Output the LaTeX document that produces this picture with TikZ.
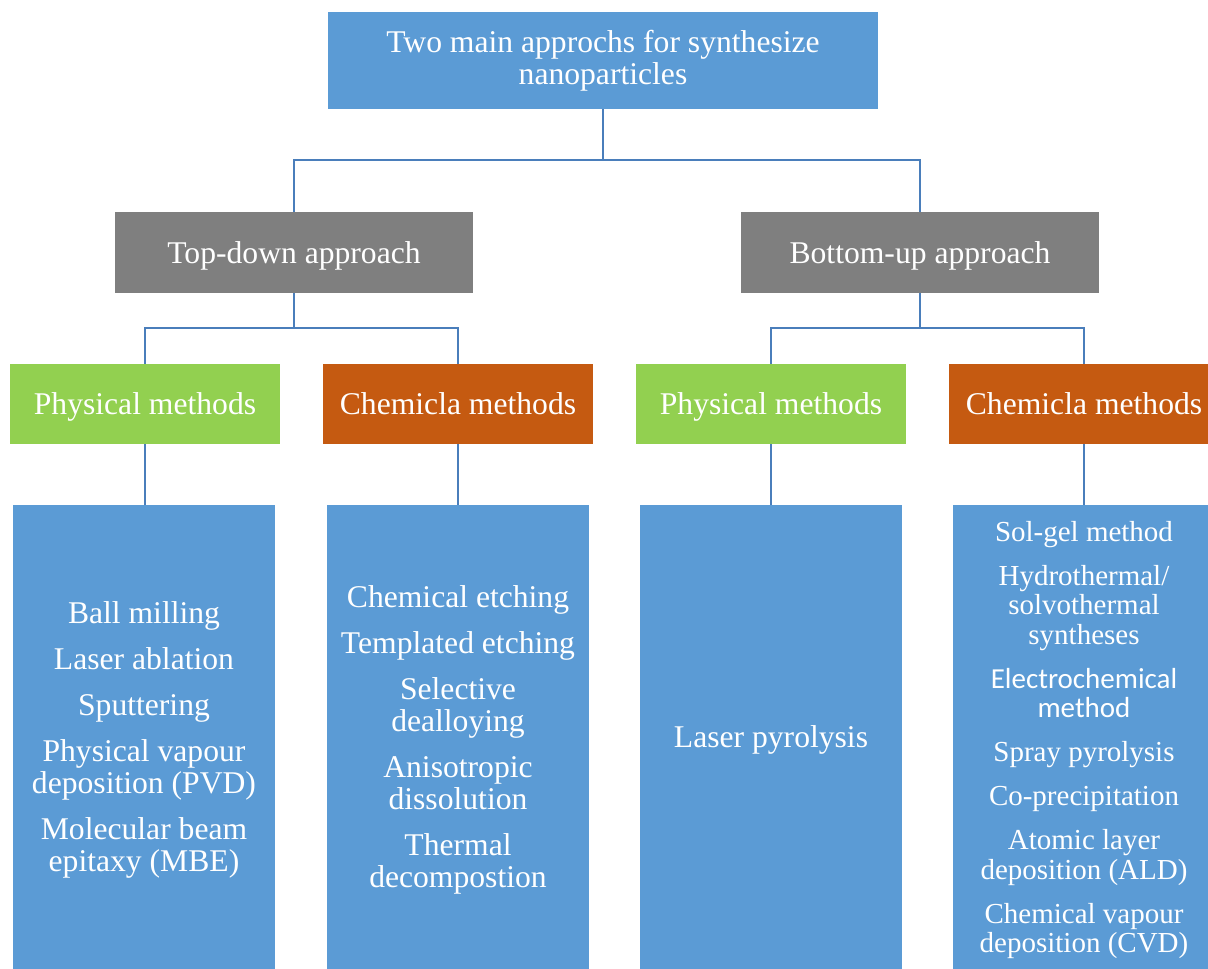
\documentclass[tikz,border=0pt]{standalone}
\usepackage{fontspec}
\setmainfont{Liberation Serif}
\newfontfamily\calibrifont{Carlito}
\usepackage{xcolor}
\usepackage{tikz}
\usetikzlibrary{positioning}
\definecolor{NanoBlue}{HTML}{5B9BD5}
\definecolor{NanoGray}{HTML}{7F7F7F}
\definecolor{NanoGreen}{HTML}{92D050}
\definecolor{NanoOrange}{HTML}{C55A11}
\definecolor{NanoLine}{HTML}{4A7EBB}
\tikzset{
  box/.style={
    draw=none,
    text=white,
    align=center,
    inner sep=0pt,
    font=\fontsize{18}{18.2}\selectfont
  },
  oneline/.style={box,text height=12.5pt,text depth=0pt},
  rootbox/.style={box,fill=NanoBlue,minimum width=11cm,minimum height=1.94cm},
  approachbox/.style={oneline,fill=NanoGray,minimum width=7.16cm,minimum height=1.62cm},
  physbox/.style={oneline,fill=NanoGreen,minimum width=5.42cm,minimum height=1.6cm},
  chembox/.style={oneline,fill=NanoOrange,minimum width=5.42cm,minimum height=1.6cm},
  listbox/.style={box,fill=NanoBlue,minimum width=5.24cm,minimum height=9.4cm},
  conn/.style={draw=NanoLine,line width=1.1pt}
}

\begin{document}
\begin{tikzpicture}[x=.02cm,y=.02cm]
  \fill[white] (0,0) rectangle (1208,-969);
  \useasboundingbox (0,0) rectangle (1208,-969);

  % Root and the two approaches.
  \node[rootbox] (root) at (603,-60.5) {Two main approchs for synthesize\\nanoparticles};
  \node[approachbox] (td) at (294,-252.5) {Top-down approach};
  \node[approachbox] (bu) at (920,-252.5) {Bottom-up approach};

  % Method groups.
  \node[physbox] (tdphys) at (145,-404) {Physical methods};
  \node[chembox] (tdchem) at (458,-404) {Chemicla methods};
  \node[physbox] (buphys) at (771,-404) {Physical methods};
  \node[chembox] (buchem) at (1084,-404) {Chemicla methods};

  % Lists of techniques.
  \node[listbox] (tdphyslist) at (144,-740)
    {Ball milling\\[8pt]Laser ablation\\[8pt]Sputtering\\[8pt]Physical vapour\\deposition (PVD)\\[8pt]Molecular beam\\epitaxy (MBE)};
  \node[listbox] (tdchemlist) at (458,-740)
    {Chemical etching\\[8pt]Templated etching\\[8pt]Selective\\dealloying\\[8pt]Anisotropic\\dissolution\\[8pt]Thermal\\decompostion};
  \node[listbox] (buphyslist) at (771,-740) {Laser pyrolysis};
  \node[listbox,font=\fontsize{16.5}{16.8}\selectfont] (buchemlist) at (1084,-740)
    {Sol-gel method\\[8.2pt]Hydrothermal/\\solvothermal\\syntheses\\[8.2pt]{\calibrifont Electrochemical}\\{\calibrifont method}\\[8.2pt]Spray pyrolysis\\[8.2pt]Co-precipitation\\[8.2pt]Atomic layer\\deposition (ALD)\\[8.2pt]Chemical vapour\\deposition (CVD)};

  % Connectors.
  \draw[conn] (root.south) -- ++(0,-51) -| (td.north);
  \draw[conn] (root.south) -- ++(0,-51) -| (bu.north);
  \draw[conn] (td.south) -- ++(0,-35) -| (tdphys.north);
  \draw[conn] (td.south) -- ++(0,-35) -| (tdchem.north);
  \draw[conn] (bu.south) -- ++(0,-35) -| (buphys.north);
  \draw[conn] (bu.south) -- ++(0,-35) -| (buchem.north);
  \draw[conn] (tdphys.south) -- (tdphys.south |- tdphyslist.north);
  \draw[conn] (tdchem.south) -- (tdchemlist.north);
  \draw[conn] (buphys.south) -- (buphyslist.north);
  \draw[conn] (buchem.south) -- (buchemlist.north);
\end{tikzpicture}
\end{document}
